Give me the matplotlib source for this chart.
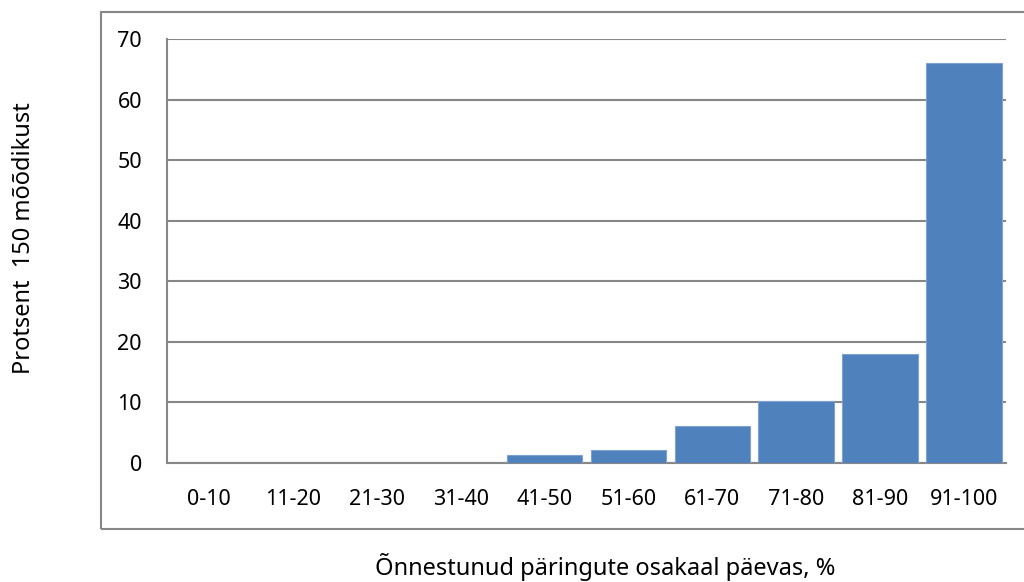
import matplotlib.pyplot as plt
from matplotlib.patches import Rectangle

# kategooriad ja väärtused
categories = ["0-10", "11-20", "21-30", "31-40", "41-50",
              "51-60", "61-70", "71-80", "81-90", "91-100"]
values = [0, 0, 0, 0, 1.3, 2.2, 6.1, 10.3, 18.0, 66.1]

plt.rcParams['font.family'] = ['Noto Sans', 'DejaVu Sans']

W, H = 1024, 582
fig = plt.figure(figsize=(W / 100, H / 100), dpi=100)
ax = fig.add_axes([167 / W, 1 - 463 / H, 839 / W, 424 / H])

x = range(len(categories))
ax.bar(x, values, width=0.9, color='#4F81BD', edgecolor='#7EA3D3',
       linewidth=0.8, zorder=3)

ax.set_xlim(-0.5, len(categories) - 0.5)
ax.set_ylim(0, 70)
ax.set_yticks(range(0, 71, 10))
ax.set_xticks(list(x))
ax.set_xticklabels(categories)
ax.tick_params(axis='both', length=0, labelsize=15.5, colors='black')
ax.tick_params(axis='x', pad=19)
ax.tick_params(axis='y', pad=18)

ax.grid(axis='y', color='#878787', linewidth=1.5, zorder=0)
ax.grid(axis='x', visible=False)
for s in ['top', 'right']:
    ax.spines[s].set_visible(False)
for s in ['left', 'bottom']:
    ax.spines[s].set_color('#878787')
    ax.spines[s].set_linewidth(1.5)

# välimine raam (parem serv jääb pildist välja)
fig.patches.append(Rectangle((101 / W, 1 - 529 / H), 940 / W, 517 / H,
                             transform=fig.transFigure, fill=False,
                             edgecolor='#878787', linewidth=1.5))

fig.text(605 / W, 1 - 575 / H, "Õnnestunud päringute osakaal päevas, %",
         ha='center', va='baseline', fontsize=17)
fig.text(24 / W, 1 - 238 / H, "Protsent  150 mõõdikust",
         ha='center', va='center', rotation=90, fontsize=17)

fig.savefig('out.png', dpi=100)
